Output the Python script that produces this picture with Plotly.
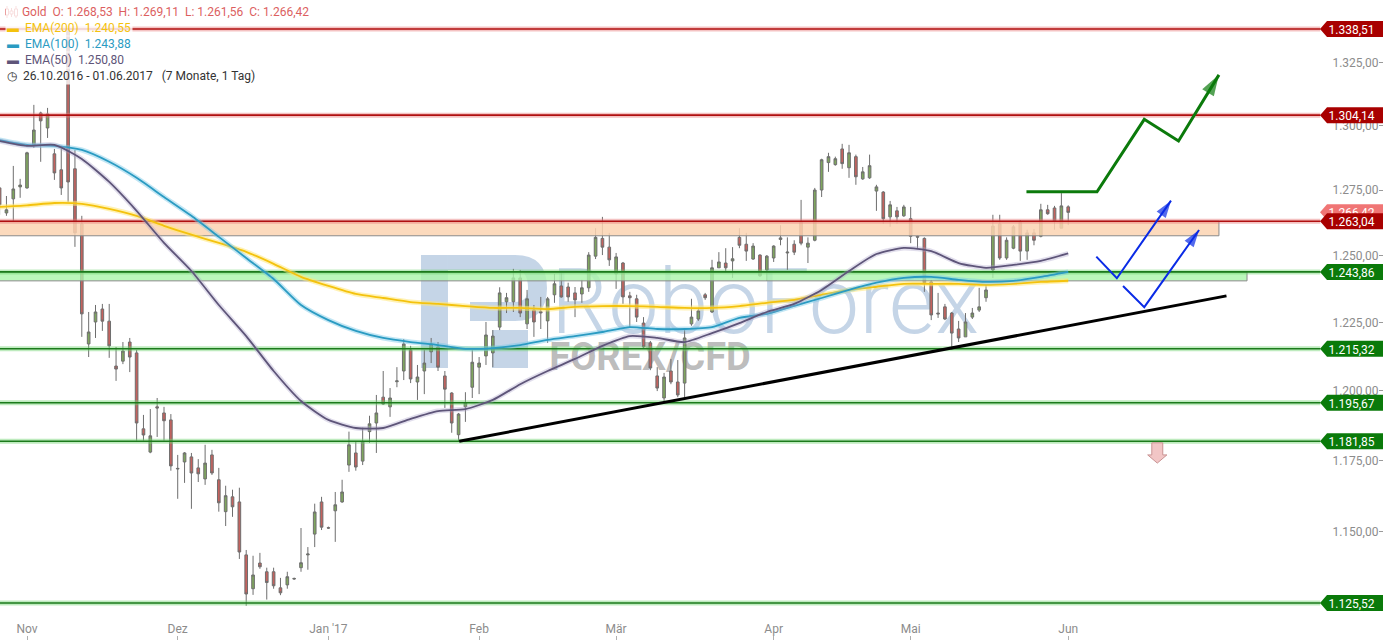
import numpy as np
import pandas as pd
import plotly.graph_objects as go

# -----------------------------------------------------------------------------
# Gold daily, 26.10.2016 - 01.06.2017 (trading days only)
# -----------------------------------------------------------------------------
dates = pd.bdate_range('2016-10-26', '2017-06-01')
x_idx = list(range(len(dates)))

opens = [
    1275.8, 1266.2, 1271.6, 1276.2, 1275.8, 1292.5, 1305.0, 1299.1, 1289.0, 1282.8,
    1337.5, 1283.2, 1262.0, 1217.1, 1225.2, 1230.0, 1225.5, 1209.0, 1210.8, 1217.8,
    1213.8, 1186.3, 1178.0, 1194.2, 1192.0, 1189.5, 1172.0, 1174.5, 1176.3, 1172.4,
    1168.5, 1177.0, 1168.2, 1157.0, 1162.2, 1160.4, 1142.0, 1130.4, 1139.2, 1136.2,
    1136.2, 1130.7, 1131.7, 1133.7, 1137.6, 1142.0, 1149.2, 1160.4, 1151.4, 1157.3,
    1160.4, 1173.4, 1177.7, 1174.8, 1185.3, 1188.4, 1197.7, 1194.2, 1203.3, 1207.2,
    1214.9, 1203.2, 1207.2, 1214.2, 1216.0, 1205.4, 1199.2, 1184.2, 1194.2, 1201.3,
    1208.6, 1212.7, 1213.8, 1223.3, 1232.7, 1232.7, 1241.6, 1224.5, 1229.6, 1229.0,
    1225.6, 1235.3, 1238.6, 1238.2, 1236.0, 1235.6, 1237.9, 1249.8, 1256.5, 1253.2,
    1243.1, 1247.2, 1234.9, 1233.8, 1224.8, 1217.5, 1205.4, 1197.4, 1207.2, 1203.2,
    1202.8, 1224.5, 1226.3, 1235.3, 1228.9, 1245.4, 1247.2, 1248.0, 1256.9, 1254.3,
    1248.7, 1250.2, 1244.6, 1249.1, 1256.1, 1251.0, 1254.3, 1262.6, 1253.2, 1255.8,
    1275.0, 1285.6, 1284.8, 1290.9, 1283.6, 1287.9, 1279.3, 1279.7, 1274.6, 1274.2,
    1264.7, 1267.0, 1265.1, 1264.0, 1257.3, 1256.5, 1240.1, 1228.5, 1230.8, 1228.5,
    1222.6, 1219.7, 1227.0, 1229.6, 1234.2, 1244.6, 1262.0, 1249.1, 1252.8, 1262.6,
    1251.7, 1258.6, 1257.3, 1267.4, 1268.1, 1260.4, 1268.53,
]
highs = [
    1276.2, 1272.7, 1284.3, 1279.3, 1289.8, 1308.2, 1305.5, 1307.0, 1290.9, 1290.9,
    1338.5, 1290.5, 1265.1, 1228.9, 1231.5, 1231.9, 1231.9, 1216.0, 1217.8, 1219.3,
    1214.9, 1191.3, 1193.4, 1197.4, 1194.2, 1191.6, 1177.0, 1178.0, 1177.7, 1175.5,
    1180.6, 1178.8, 1172.4, 1166.1, 1164.7, 1165.4, 1143.7, 1141.7, 1142.7, 1137.6,
    1137.6, 1134.1, 1136.2, 1134.2, 1151.3, 1144.7, 1159.8, 1162.2, 1151.8, 1163.9,
    1168.2, 1185.3, 1181.7, 1186.7, 1191.0, 1198.5, 1207.2, 1201.0, 1208.6, 1218.9,
    1216.4, 1209.4, 1214.9, 1219.3, 1217.8, 1207.2, 1199.5, 1192.0, 1199.5, 1214.9,
    1212.3, 1225.2, 1222.2, 1238.1, 1236.0, 1245.0, 1244.6, 1237.1, 1231.5, 1234.5,
    1234.5, 1243.1, 1243.5, 1239.8, 1238.2, 1240.9, 1251.3, 1260.4, 1264.7, 1258.6,
    1251.0, 1247.6, 1236.4, 1235.3, 1227.0, 1218.2, 1208.6, 1206.5, 1211.6, 1211.2,
    1222.2, 1233.8, 1230.4, 1236.0, 1248.4, 1251.3, 1252.8, 1253.2, 1260.4, 1258.6,
    1254.7, 1250.5, 1250.2, 1253.9, 1261.5, 1256.9, 1255.8, 1271.2, 1256.9, 1275.8,
    1287.1, 1289.4, 1287.9, 1292.9, 1292.5, 1288.7, 1283.9, 1288.7, 1277.0, 1274.6,
    1270.8, 1268.5, 1269.3, 1268.5, 1257.6, 1256.9, 1240.9, 1236.0, 1231.9, 1228.9,
    1225.6, 1228.5, 1230.4, 1237.9, 1239.0, 1265.5, 1265.5, 1256.9, 1261.6, 1263.4,
    1259.8, 1260.1, 1269.7, 1269.3, 1268.9, 1273.8, 1269.11,
]
lows = [
    1265.5, 1265.1, 1263.2, 1272.0, 1275.5, 1291.3, 1285.9, 1295.2, 1278.9, 1273.1,
    1270.4, 1253.3, 1219.7, 1212.3, 1219.3, 1221.9, 1212.0, 1203.6, 1209.7, 1206.8,
    1182.1, 1182.1, 1177.6, 1183.4, 1182.1, 1171.4, 1161.5, 1167.1, 1158.0, 1167.4,
    1166.4, 1169.9, 1157.0, 1152.0, 1155.2, 1140.6, 1124.6, 1128.3, 1137.2, 1126.7,
    1130.4, 1128.2, 1130.4, 1133.4, 1136.2, 1136.9, 1144.7, 1150.6, 1151.0, 1146.5,
    1160.1, 1171.0, 1171.4, 1173.4, 1181.3, 1177.7, 1194.9, 1190.6, 1201.3, 1203.9,
    1202.8, 1196.7, 1198.8, 1210.1, 1207.2, 1193.8, 1184.9, 1181.8, 1188.8, 1197.4,
    1198.8, 1209.4, 1208.6, 1222.2, 1228.5, 1228.9, 1227.0, 1222.6, 1219.7, 1222.6,
    1217.5, 1232.3, 1234.2, 1232.7, 1227.0, 1232.3, 1236.4, 1248.7, 1250.2, 1246.1,
    1237.5, 1231.9, 1223.3, 1225.2, 1215.3, 1207.5, 1199.9, 1196.0, 1202.4, 1197.7,
    1197.7, 1223.8, 1225.6, 1233.4, 1228.5, 1245.4, 1243.5, 1241.6, 1252.8, 1248.0,
    1248.4, 1242.0, 1240.5, 1247.6, 1253.9, 1244.6, 1250.2, 1253.9, 1247.2, 1255.4,
    1272.3, 1282.0, 1284.4, 1283.2, 1279.7, 1277.0, 1278.9, 1279.3, 1267.0, 1262.0,
    1260.9, 1262.0, 1264.7, 1254.7, 1252.8, 1236.4, 1225.9, 1226.7, 1225.9, 1215.0,
    1217.8, 1219.7, 1226.3, 1228.9, 1232.7, 1241.6, 1248.4, 1248.4, 1252.4, 1248.0,
    1248.4, 1253.9, 1256.9, 1265.5, 1259.8, 1260.4, 1261.56,
]
closes = [
    1269.3, 1267.4, 1275.4, 1276.9, 1289.4, 1298.3, 1301.9, 1304.6, 1281.6, 1275.8,
    1278.1, 1258.6, 1228.2, 1221.5, 1228.9, 1225.5, 1216.4, 1207.9, 1214.5, 1212.3,
    1188.4, 1184.1, 1183.8, 1193.8, 1189.2, 1173.1, 1172.2, 1177.7, 1170.6, 1170.3,
    1174.1, 1170.6, 1160.1, 1162.6, 1158.7, 1143.0, 1128.6, 1135.1, 1137.9, 1132.5,
    1131.4, 1129.0, 1134.5, 1133.9, 1139.3, 1142.3, 1156.9, 1151.6, 1151.3, 1159.4,
    1163.9, 1180.6, 1172.7, 1181.7, 1188.1, 1192.0, 1195.2, 1197.4, 1203.6, 1217.1,
    1204.3, 1205.0, 1210.1, 1217.1, 1208.6, 1200.6, 1188.4, 1191.6, 1195.6, 1210.4,
    1210.1, 1220.4, 1220.0, 1236.0, 1234.2, 1241.6, 1228.5, 1233.8, 1225.2, 1228.6,
    1233.8, 1239.4, 1234.5, 1234.5, 1233.4, 1237.9, 1250.2, 1256.9, 1253.2, 1248.4,
    1249.5, 1234.5, 1234.2, 1227.0, 1216.0, 1208.3, 1201.0, 1205.0, 1203.2, 1198.5,
    1219.3, 1227.0, 1229.3, 1234.2, 1245.4, 1247.6, 1245.4, 1248.8, 1253.9, 1251.7,
    1253.6, 1242.4, 1249.8, 1253.6, 1256.7, 1251.3, 1251.3, 1254.7, 1254.7, 1275.0,
    1286.7, 1287.9, 1287.1, 1285.2, 1289.4, 1280.1, 1282.0, 1284.4, 1276.2, 1264.0,
    1269.3, 1264.7, 1268.5, 1257.3, 1257.0, 1239.8, 1227.8, 1228.2, 1226.3, 1221.1,
    1219.3, 1225.2, 1228.5, 1230.8, 1237.1, 1261.2, 1249.1, 1255.8, 1260.9, 1251.7,
    1258.6, 1255.8, 1267.4, 1265.9, 1263.2, 1268.9, 1266.42,
]

# EMAs read every 4th trading day
ema_idx = list(range(0, 157, 4))
ema200 = [
    1268.5, 1269.1, 1270.0, 1269.7, 1267.8, 1265.1, 1261.3, 1257.9, 1254.8, 1251.4,
    1246.9, 1242.0, 1238.6, 1235.6, 1234.1, 1232.6, 1231.9, 1231.1, 1230.4, 1230.4,
    1230.0, 1230.8, 1231.1, 1231.1, 1230.8, 1230.4, 1230.4, 1231.1, 1232.3, 1233.4,
    1235.3, 1237.1, 1238.3, 1239.4, 1239.4, 1239.4, 1239.0, 1239.4, 1240.1, 1240.55,
]
ema100 = [
    1294.4, 1292.5, 1292.1, 1290.5, 1285.9, 1279.7, 1272.3, 1265.1, 1257.1, 1249.1,
    1241.2, 1231.5, 1225.9, 1221.9, 1219.3, 1217.8, 1216.7, 1215.3, 1215.6, 1216.7,
    1218.6, 1220.0, 1221.5, 1223.3, 1222.6, 1222.6, 1223.3, 1226.7, 1228.2, 1231.2,
    1234.1, 1237.1, 1239.8, 1241.6, 1242.0, 1240.9, 1240.1, 1240.5, 1242.0, 1243.88,
]
ema50 = [
    1294.0, 1292.1, 1292.5, 1287.0, 1278.1, 1267.0, 1254.8, 1244.2, 1231.5, 1220.0,
    1207.2, 1196.3, 1189.5, 1186.6, 1186.6, 1189.9, 1192.7, 1193.4, 1196.7, 1202.4,
    1207.2, 1211.6, 1216.4, 1220.0, 1219.3, 1217.8, 1221.1, 1224.8, 1228.9, 1231.9,
    1237.1, 1244.2, 1250.6, 1252.9, 1251.7, 1247.2, 1245.4, 1246.5, 1248.0, 1250.80,
]

# horizontal levels
levels_red = [1338.51, 1304.14, 1263.04]
levels_green = [1243.86, 1215.32, 1195.67, 1181.85, 1125.52]
last_close = 1266.42

# zones (bottom, top, end index)
zone_orange = (1257.5, 1263.04, 178.0)
zone_green = (1240.5, 1243.86, 182.1)

# drawings (trading-day index, price)
trend_x, trend_y = [67.1, 179.1], [1181.85, 1234.9]
up_x, up_y = [149.9, 160.2, 167.1, 172.1, 178.0], [1274.3, 1274.3, 1302.5, 1294.0, 1320.1]
blue1_x, blue1_y = [160.1, 163.1, 171.0], [1249.6, 1241.5, 1270.9]
blue2_x, blue2_y = [164.0, 167.1, 175.1], [1238.6, 1230.7, 1259.7]
down_x = [168.2, 169.8, 169.8, 170.4, 169.0, 167.6, 168.2, 168.2]
down_y = [1181.3, 1181.3, 1177.0, 1177.0, 1174.1, 1177.0, 1177.0, 1181.3]

y_ticks = [1125, 1150, 1175, 1200, 1225, 1250, 1275, 1300, 1325, 1350]
month_names = ['Nov', 'Dez', "Jan '17", 'Feb', 'Mär', 'Apr', 'Mai', 'Jun']

COLORS = {
    'up':       '#7FA65E',
    'down':     '#C4625E',
    'wick':     '#6E6E6E',
    'red':      '#B00F0F',
    'red_glow': 'rgba(230,120,120,0.45)',
    'green':    '#1B7A1B',
    'grn_glow': 'rgba(110,210,110,0.45)',
    'ema200':   '#F4C20D',
    'ema100':   '#2A9BC2',
    'ema50':    '#5E5579',
    'axis':     '#8C8C8C',
}
FONT = 'Roboto, Arial, sans-serif'
W, H = 1383, 640


def de(v):
    s = f"{v:,.2f}"
    return s.replace(',', 'X').replace('.', ',').replace('X', '.')


month_ticks = [i for i in range(1, len(dates)) if dates[i].month != dates[i - 1].month]

x_range = [0.058, 201.95]
y_range = [np.log10(1113.03), np.log10(1350.28)]
line_end = 192.8

fig = go.Figure()

# zones
for (lo, hi, end), fc in [(zone_orange, 'rgba(252,211,178,0.85)'),
                          (zone_green, 'rgba(170,245,170,0.8)')]:
    fig.add_trace(go.Scatter(
        x=[-2, end, end, -2, -2], y=[hi, hi, lo, lo, hi],
        fill='toself', fillcolor=fc, mode='lines',
        line=dict(color='#8a8a8a', width=1), hoverinfo='skip', showlegend=False))

# level lines
for lv in levels_red + levels_green:
    core = COLORS['red'] if lv in levels_red else COLORS['green']
    glow = COLORS['red_glow'] if lv in levels_red else COLORS['grn_glow']
    fig.add_trace(go.Scatter(x=[-2, line_end], y=[lv, lv], mode='lines',
                             line=dict(color=glow, width=5), hoverinfo='skip',
                             showlegend=False))
    fig.add_trace(go.Scatter(x=[-2, line_end], y=[lv, lv], mode='lines',
                             line=dict(color=core, width=1.6), hoverinfo='skip',
                             showlegend=False))

# candles
fig.add_trace(go.Candlestick(
    x=x_idx, open=opens, high=highs, low=lows, close=closes,
    increasing=dict(fillcolor=COLORS['up'], line=dict(color=COLORS['wick'], width=1)),
    decreasing=dict(fillcolor=COLORS['down'], line=dict(color=COLORS['wick'], width=1)),
    whiskerwidth=0, showlegend=False, name='Gold'))

# EMAs with a soft glow
for vals, col, glow in [(ema200, COLORS['ema200'], 'rgba(255,232,120,0.55)'),
                        (ema100, COLORS['ema100'], 'rgba(120,200,230,0.45)'),
                        (ema50, COLORS['ema50'], 'rgba(170,160,200,0.35)')]:
    fig.add_trace(go.Scatter(x=ema_idx, y=vals, mode='lines',
                             line=dict(color=glow, width=5, shape='spline', smoothing=0.6),
                             hoverinfo='skip', showlegend=False))
    fig.add_trace(go.Scatter(x=ema_idx, y=vals, mode='lines',
                             line=dict(color=col, width=1.8, shape='spline', smoothing=0.6),
                             showlegend=False))

# trend line
fig.add_trace(go.Scatter(x=trend_x, y=trend_y, mode='lines',
                         line=dict(color='black', width=3), showlegend=False))

# scenario arrows
for xs, ys, col, w, size in [(up_x, up_y, '#0B7A0B', 3, 22),
                             (blue1_x, blue1_y, '#0A2BE6', 2, 18),
                             (blue2_x, blue2_y, '#0A2BE6', 2, 18)]:
    fig.add_trace(go.Scatter(
        x=xs, y=ys, mode='lines+markers',
        line=dict(color=col, width=w),
        marker=dict(size=[0] * (len(xs) - 1) + [size],
                    symbol=['circle'] * (len(xs) - 1) + ['arrow'],
                    angleref='previous', color=col, line=dict(width=0)),
        hoverinfo='skip', showlegend=False))

fig.add_trace(go.Scatter(x=down_x, y=down_y, mode='lines', fill='toself',
                         fillcolor='#F2C6C6', line=dict(color='#C99393', width=1),
                         hoverinfo='skip', showlegend=False))

# ---- price tags on the right -------------------------------------------------
half = 10 ** (8 / H * (y_range[1] - y_range[0]))
tip, body = 1320 / W, 1327 / W


def add_tag(price, color):
    path = (f"M {tip},{price} L {body},{price * half} L 1,{price * half} "
            f"L 1,{price / half} L {body},{price / half} Z")
    fig.add_shape(type='path', path=path, xref='paper', yref='y',
                  fillcolor=color, line=dict(width=0), layer='above',
                  label=dict(text=de(price), textposition='middle center',
                             font=dict(color='white', size=12, family=FONT)))


add_tag(last_close, '#F07575')
for lv in levels_red:
    add_tag(lv, '#A80000')
for lv in levels_green:
    add_tag(lv, '#0A7A0A')

# ---- watermark ---------------------------------------------------------------


def P(x, y):
    return f"{x / W:.5f},{1 - y / H:.5f}"


wm = 'rgba(150,178,212,0.55)'
logo_paths = [
    f"M {P(421,255)} L {P(448,255)} L {P(448,368)} L {P(421,368)} Z",
    (f"M {P(448,255)} L {P(515,255)} Q {P(547,255)} {P(547,288)} Q {P(547,321)} {P(515,321)} "
     f"L {P(470,321)} L {P(470,302)} L {P(515,302)} Q {P(528,302)} {P(528,288)} "
     f"Q {P(528,270)} {P(515,270)} L {P(448,270)} Z"),
    f"M {P(492,330)} L {P(528,330)} L {P(528,368)} L {P(492,368)} Z",
]
for p in logo_paths:
    fig.add_shape(type='path', path=p, xref='paper', yref='paper',
                  fillcolor=wm, line=dict(width=0), layer='below')

fig.add_shape(type='rect', xref='paper', yref='paper',
              x0=540 / W, x1=990 / W, y0=1 - 345 / H, y1=1 - 245 / H,
              line=dict(width=0), fillcolor='rgba(0,0,0,0)', layer='below',
              label=dict(text='RoboForex', textposition='middle center',
                         font=dict(size=90, color=wm, family=FONT, weight=300)))
fig.add_shape(type='rect', xref='paper', yref='paper',
              x0=545 / W, x1=755 / W, y0=1 - 372 / H, y1=1 - 336 / H,
              line=dict(width=0), fillcolor='rgba(0,0,0,0)', layer='below',
              label=dict(text='<b>FOREX/CFD</b>', textposition='middle center',
                         font=dict(size=38, color='rgba(150,150,150,0.65)', family=FONT)))

# ---- legend block (top left) --------------------------------------------------
legend_rows = [
    (12, '#DC5F5F', '\u00a0\u00a0\u00a0\u00a0\u00a0Gold\u00a0\u00a0O: 1.268,53\u00a0\u00a0H: 1.269,11'
                    '\u00a0\u00a0L: 1.261,56\u00a0\u00a0C: 1.266,42'),
    (28, COLORS['ema200'], '▬\u00a0 EMA(200)\u00a0\u00a01.240,55'),
    (44, COLORS['ema100'], '▬\u00a0 EMA(100)\u00a0\u00a01.243,88'),
    (60, COLORS['ema50'], '▬\u00a0 EMA(50)\u00a0\u00a01.250,80'),
    (76, '#333333', '◷\u00a0 26.10.2016 - 01.06.2017\u00a0\u00a0\u00a0(7 Monate, 1 Tag)'),
]
for yc, col, txt in legend_rows:
    fig.add_annotation(text=txt, xref='paper', yref='paper', x=5 / W, y=1 - yc / H,
                       xanchor='left', yanchor='middle', showarrow=False,
                       font=dict(size=12, color=col, family=FONT),
                       bgcolor='rgba(255,255,255,0.8)', borderpad=1)

# small candle icon for the first row
for cx, t, b, bt, bb in [(7, 6, 18, 9, 15), (11.5, 8, 17, 11, 14), (16, 6, 18, 9, 16)]:
    fig.add_shape(type='line', xref='paper', yref='paper',
                  x0=cx / W, x1=cx / W, y0=1 - t / H, y1=1 - b / H,
                  line=dict(color='#DC5F5F', width=1))
    fig.add_shape(type='rect', xref='paper', yref='paper',
                  x0=(cx - 1.5) / W, x1=(cx + 1.5) / W, y0=1 - bt / H, y1=1 - bb / H,
                  line=dict(color='#DC5F5F', width=1), fillcolor='white')

fig.update_layout(
    width=W, height=H,
    margin=dict(l=0, r=0, t=0, b=0),
    paper_bgcolor='white', plot_bgcolor='rgba(0,0,0,0)',
    boxgap=0.45,
    showlegend=False,
    font=dict(family=FONT, color=COLORS['axis']),
    xaxis=dict(range=x_range, tickvals=month_ticks, ticktext=month_names,
               ticklabelposition='inside', ticks='inside', ticklen=4,
               tickcolor='#B0B0B0', tickfont=dict(size=12, color=COLORS['axis']),
               showgrid=False, zeroline=False, showline=False,
               rangeslider=dict(visible=False), automargin=False),
    yaxis=dict(type='log', range=y_range, side='right',
               tickvals=y_ticks, ticktext=[de(v) for v in y_ticks],
               ticklabelposition='inside', ticks='inside', ticklen=4,
               tickcolor='#9A9A9A', tickfont=dict(size=12, color=COLORS['axis']),
               showgrid=False, zeroline=False, showline=False, automargin=False),
)

fig.write_html("out.html", config={'displayModeBar': False},
               post_script="document.body.style.margin='0';")
